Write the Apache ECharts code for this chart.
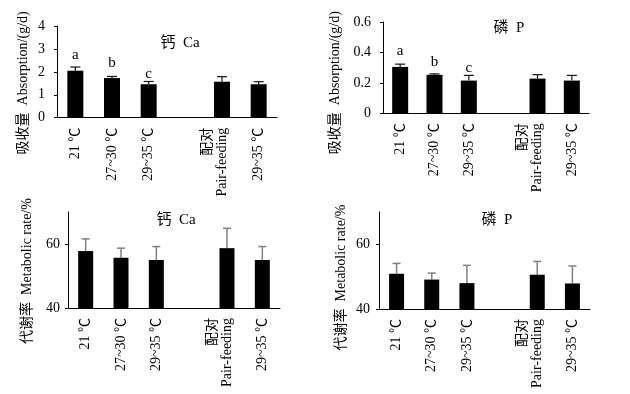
<!DOCTYPE html>
<html>
<head>
<meta charset="utf-8">
<script src="https://cdn.jsdelivr.net/npm/echarts@6/dist/echarts.min.js"></script>
<style>html,body{margin:0;padding:0;background:#fff;}#c{width:630px;height:394px;}</style>
</head>
<body>
<div id="c"></div>
<script>
// ---- data ----
const categories = ['21 ℃', '27~30 ℃', '29~35 ℃', '', '配对\nPair-feeding', '29~35 ℃'];
const letters = ['a', 'b', 'c', '', '', ''];
const caAbs = [2.05, 1.73, 1.46, null, 1.57, 1.46];
const caAbsErr = [0.16, 0.07, 0.12, null, 0.22, 0.11];
const pAbs = [0.305, 0.253, 0.215, null, 0.228, 0.215];
const pAbsErr = [0.018, 0.006, 0.034, null, 0.026, 0.034];
const caMet = [57.8, 55.7, 55.0, null, 58.7, 55.0];
const caMetErr = [3.8, 3.0, 4.2, null, 6.2, 4.2];
const pMet = [50.9, 49.1, 48.0, null, 50.6, 47.9];
const pMetErr = [3.2, 2.0, 5.5, null, 4.1, 5.4];
const titles = ['钙  Ca', '磷  P', '钙  Ca', '磷  P'];
const absName = '吸收量  Absorption/(g/d)';
const metName = '代谢率  Metabolic rate/%';
const absCaTicks = [0, 4, 1];
const absPTicks = [0, 0.6, 0.2];
const metTicks = [40, 70, 20];
const metLabels = [40, 60];

// ---- styles ----
const FONT = "'Liberation Serif','Times New Roman','Noto Sans CJK SC',serif";
const black = '#000';
const panels = [
  {grid: {left: 57, top: 26, width: 220, height: 91.7}, vals: caAbs, err: caAbsErr, ticks: absCaTicks, name: absName, gap: 27, shift: 11, errColor: '#111', errW: 1.2, cap: 5, barW: 16, letterGap: [4, 6, 0], labMargin: 12, title: [180, 43]},
  {grid: {left: 383, top: 22, width: 206, height: 91.3}, vals: pAbs, err: pAbsErr, ticks: absPTicks, name: absName, gap: 41, shift: 15, errColor: '#111', errW: 1.2, cap: 5, barW: 16, letterGap: [6, 4, 0], labMargin: 12, title: [509, 28]},
  {grid: {left: 68, top: 212, width: 212, height: 96}, vals: caMet, err: caMetErr, ticks: metTicks, custom: metLabels, name: metName, gap: 34, shift: 11, errColor: '#808080', errW: 1.5, cap: 4, barW: 15, letterGap: [0, 0, 0], labMargin: 8, title: [176, 220]},
  {grid: {left: 379, top: 212, width: 211, height: 97}, vals: pMet, err: pMetErr, ticks: metTicks, custom: metLabels, name: metName, gap: 31, shift: 17, errColor: '#808080', errW: 1.5, cap: 4, barW: 15, letterGap: [0, 0, 0], labMargin: 9, title: [497, 220]}
];

const grids = [], xAxes = [], yAxes = [], series = [], graphics = [];
panels.forEach((p, k) => {
  grids.push(p.grid);
  xAxes.push({
    type: 'category', gridIndex: k, data: categories,
    axisLine: {lineStyle: {color: black, width: 1}},
    axisTick: {inside: true, length: 3, lineStyle: {color: black}},
    axisLabel: {rotate: 90, interval: 0, margin: 10, color: black, fontFamily: FONT, fontSize: 14, lineHeight: 15,
      formatter: v => v.indexOf('\n') >= 0 ? v + '\n ' : v}
  });
  const y = {
    type: 'value', gridIndex: k, min: p.ticks[0], max: p.ticks[1], interval: p.ticks[2],
    splitLine: {show: false},
    axisLine: {show: true, lineStyle: {color: black, width: 1}},
    axisTick: {show: true, length: 3, lineStyle: {color: black}},
    axisLabel: {color: black, fontFamily: FONT, fontSize: 14, margin: p.labMargin},
    name: p.name, nameLocation: 'middle', nameRotate: 90, nameGap: p.gap,
    nameTextStyle: {color: black, fontFamily: FONT, fontSize: 14, padding: [0, 2 * p.shift, 0, 0]}
  };
  if (p.custom) {
    y.axisLabel.customValues = p.custom;
    y.axisTick.customValues = p.custom;
  }
  yAxes.push(y);
  series.push({
    type: 'bar', xAxisIndex: k, yAxisIndex: k, barWidth: p.barW,
    itemStyle: {color: black},
    data: p.vals.map((v, i) => ({
      value: v == null ? '-' : v,
      label: {show: !!letters[i] && k < 2, position: 'top', distance: (p.letterGap[i] || 0) + (p.err[i] || 0) * p.grid.height / (p.ticks[1] - p.ticks[0]),
        formatter: () => letters[i], color: black, fontFamily: FONT, fontSize: 15}
    })),
    silent: true, animation: false
  });
  series.push({
    type: 'custom', xAxisIndex: k, yAxisIndex: k, silent: true, animation: false, z: 1,
    data: p.vals.map((v, i) => v == null ? [i, '-', '-'] : [i, v, p.err[i]]),
    encode: {x: 0, y: [1, 2]},
    renderItem: (params, api) => {
      const v = api.value(1), e = api.value(2);
      if (isNaN(v) || isNaN(e)) return null;
      const a = api.coord([api.value(0), v]);
      const b = api.coord([api.value(0), v + e]);
      const st = {stroke: p.errColor, lineWidth: p.errW};
      return {type: 'group', children: [
        {type: 'line', shape: {x1: a[0], y1: a[1], x2: b[0], y2: b[1]}, style: st},
        {type: 'line', shape: {x1: b[0] - p.cap, y1: b[1], x2: b[0] + p.cap, y2: b[1]}, style: st}
      ]};
    }
  });
  graphics.push({type: 'text', x: p.title[0], y: p.title[1], style: {text: titles[k], fill: black, font: '15px ' + FONT, textAlign: 'center', textVerticalAlign: 'middle'}});
});

const chart = echarts.init(document.getElementById('c'), null, {renderer: 'canvas'});
chart.setOption({
  backgroundColor: '#fff', animation: false,
  grid: grids, xAxis: xAxes, yAxis: yAxes, series: series, graphic: graphics
});
</script>
</body>
</html>
